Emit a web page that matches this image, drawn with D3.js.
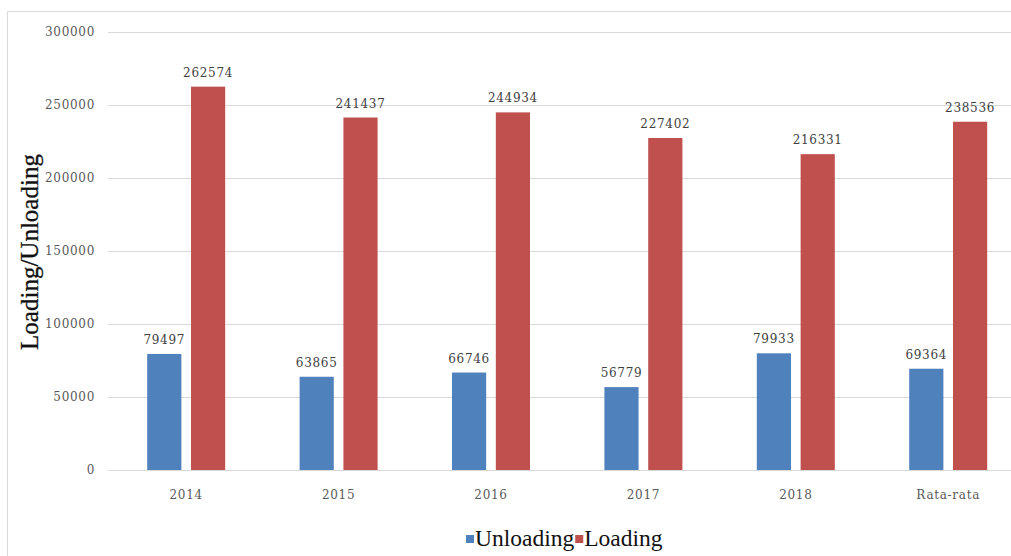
<!DOCTYPE html>
<html><head><meta charset="utf-8">
<script src="https://cdn.jsdelivr.net/npm/d3@7"></script>
<style>body{margin:0;background:#fff;}svg{display:block;}</style>
</head><body>
<svg id="c" width="1011" height="556"></svg>
<script>
const categories = ["2014","2015","2016","2017","2018","Rata-rata"];
const unloading = [79497, 63865, 66746, 56779, 79933, 69364];
const loading = [262574, 241437, 244934, 227402, 216331, 238536];
const yTicks = [0, 50000, 100000, 150000, 200000, 250000, 300000];
const seriesNames = ["Unloading", "Loading"];
const colors = ["#4F81BD", "#C0504D"];

const svg = d3.select("#c");
// outer border
svg.append("line").attr("x1",7.5).attr("x2",1011).attr("y1",11.5).attr("y2",11.5).attr("stroke","#d9d9d9");
svg.append("line").attr("x1",7.5).attr("x2",7.5).attr("y1",11.5).attr("y2",556).attr("stroke","#d9d9d9");

const x = d3.scaleBand().domain(categories).range([110, 1024.4]);
const y = d3.scaleLinear().domain([0, 300000]).range([470, 32]);
const x1 = d3.scaleBand().domain(seriesNames).range([x.bandwidth()/2 - 39, x.bandwidth()/2 + 39]).paddingInner(0.22);

// gridlines
svg.append("g").selectAll("line").data(yTicks).join("line")
  .attr("x1",108).attr("x2",1011)
  .attr("y1",d=>Math.round(y(d))+0.5).attr("y2",d=>Math.round(y(d))+0.5)
  .attr("stroke","#d9d9d9");

const tickFont = "'DejaVu Serif', serif";
// y axis
const yAxis = d3.axisLeft(y).tickValues(yTicks).tickSize(0).tickPadding(0).tickFormat(d3.format("d"));
const ya = svg.append("g").attr("transform","translate(95,0)").call(yAxis);
ya.select(".domain").remove();
ya.selectAll("text").attr("font-family",tickFont).attr("font-size",12).attr("fill","#595959").attr("letter-spacing","0.7px");

// x axis
const xAxis = d3.axisBottom(x).tickSize(0).tickPadding(0);
const xa = svg.append("g").attr("transform","translate(0,490)").call(xAxis);
xa.select(".domain").remove();
xa.selectAll("text").attr("font-family",tickFont).attr("font-size",12).attr("fill","#595959").attr("letter-spacing","0.7px");

const data = categories.map((c,i)=>({cat:c, vals:[{s:"Unloading",v:unloading[i]},{s:"Loading",v:loading[i]}]}));
const groups = svg.append("g").selectAll("g").data(data).join("g")
  .attr("transform",d=>`translate(${x(d.cat)},0)`);
groups.selectAll("rect").data(d=>d.vals).join("rect")
  .attr("x",d=>x1(d.s)).attr("width",x1.bandwidth())
  .attr("y",d=>y(d.v)).attr("height",d=>y(0)-y(d.v))
  .attr("fill",(d,i)=>colors[i]);
groups.selectAll("text").data(d=>d.vals).join("text")
  .attr("x",d=>x1(d.s)+x1.bandwidth()/2).attr("y",d=>y(d.v)-10)
  .attr("text-anchor","middle")
  .attr("font-family",tickFont).attr("font-size",12).attr("fill","#404040").attr("letter-spacing","0.7px")
  .text(d=>d.v);

// y title
svg.append("text").attr("transform","translate(38,252) rotate(-90)")
  .attr("text-anchor","middle").attr("font-family","'Liberation Serif', serif").attr("font-size",25)
  .attr("fill","#111").attr("stroke","#111").attr("stroke-width",0.3).text("Loading/Unloading");

// legend
const leg = svg.append("g");
let lx = 466;
seriesNames.forEach((n,i)=>{
  leg.append("rect").attr("x",lx).attr("y",535).attr("width",8).attr("height",8).attr("fill",colors[i]);
  const t = leg.append("text").attr("x",lx+9).attr("y",546).attr("font-family","'Liberation Serif', serif")
    .attr("font-size",23.5).attr("fill","#111").text(n);
  lx += 9 + t.node().getComputedTextLength() + 1;
});
</script>
</body></html>
